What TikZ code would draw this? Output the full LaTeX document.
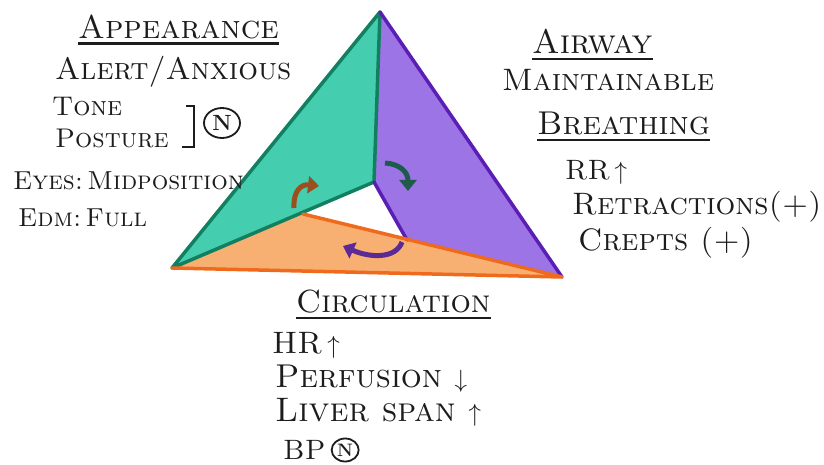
\documentclass[tikz,border=0pt]{standalone}
\usepackage{amsmath,amssymb}
\usepackage{tikz}
\usetikzlibrary{arrows.meta,shapes.geometric,positioning}
\definecolor{ink}{HTML}{1C1C1C}
\definecolor{tealface}{HTML}{45CDB0}
\definecolor{tealrim}{HTML}{128060}
\definecolor{violetface}{HTML}{9C74E6}
\definecolor{violetrim}{HTML}{5A1EB4}
\definecolor{peachface}{HTML}{F8B072}
\definecolor{peachrim}{HTML}{F06A1E}
\definecolor{rustarr}{HTML}{9B4E1E}
\definecolor{pinearr}{HTML}{1F5B4C}
\definecolor{plumarr}{HTML}{5B2A94}

\begin{document}
\begin{tikzpicture}[x=1pt,y=-1pt,
  lbl/.style={anchor=west,inner sep=0pt,text=ink,font=\fontsize{#1}{#1}\selectfont\scshape},
  lbl/.default=31,
  uline/.style={line width=2.5pt,draw=ink},
  rim/.style={line width=3.5pt,line join=round,line cap=round},
  turn/.style={line width=5pt,-{Triangle[length=11pt,width=17pt]}},
  ringN/.style={draw=ink,ellipse,line width=1.8pt,inner sep=0pt,text=ink}]
\fill[white] (0,0) rectangle (824,465);
\useasboundingbox (0,0) rectangle (824,465);

\coordinate (apex) at (380,12);
\coordinate (lb) at (172,268);
\coordinate (rb) at (562,277);
\coordinate (mid) at (374,182);
\coordinate (ot) at (303,214);
\coordinate (pk) at (407,240);

\fill[tealface] (apex) -- (mid) -- (lb) -- cycle;
\fill[violetface] (apex) -- (rb) -- (pk) -- (mid) -- cycle;
\fill[peachface] (lb) -- (ot) -- (rb) -- cycle;
\draw[rim,tealrim] (mid) -- (apex) -- (lb) -- (mid);
\draw[rim,violetrim] (apex) -- (rb);
\draw[rim,violetrim] (mid) -- (pk);
\draw[rim,peachrim] (ot) -- (rb) -- (lb);

\draw[turn,rustarr] (294,208) .. controls (293,190) and (302,184) .. (319,186);
\draw[turn,pinearr] (385,163) .. controls (400,164) and (408,172) .. (408,191);
\draw[turn,plumarr] (402,242) .. controls (396,259) and (370,258) .. (343,246);

\node[lbl=33] (app) at (78,27) {Appearance};
\draw[uline] ([yshift=-5pt]app.base west) -- ([yshift=-5pt]app.base east);
\node[lbl=31] (alert) at (55,72) {Alert/Anxious};
\node[lbl=27] (tone) at (52,107) {Tone};
\node[lbl=27] (posture) at (55,138) {Posture};
\draw[line width=2pt,draw=ink] (186,106) -- (194,106) -- (194,147) -- (182,147);
\node[ringN,minimum width=36pt,minimum height=30pt,font=\fontsize{22}{24}\selectfont\bfseries] (toneN) at (222,123) {N};
\node[lbl=26] (eyes) at (13,181) {Eyes:\,Midposition};
\node[lbl=26] (edm) at (18,218) {Edm:\,Full};

\node[lbl=34] (airway) at (532,42) {Airway};
\draw[uline] ([yshift=-5pt]airway.base west) -- ([yshift=-5pt]airway.base east);
\node[lbl=31] (maint) at (502,80) {Maintainable};
\node[lbl=33] (breath) at (537,123) {Breathing};
\draw[uline] ([yshift=-6pt]breath.base west) -- ([yshift=-6pt]breath.base east);
\node[lbl=28] (rr) at (565,172) {RR\,$\uparrow$};
\node[lbl=31] (retr) at (572,207) {Retractions(+)};
\node[lbl=31] (crep) at (578,243) {Crepts (+)};

\node[lbl=32] (circ) at (296,302) {Circulation};
\draw[uline] ([yshift=-5pt]circ.base west) -- ([yshift=-5pt]circ.base east);
\node[lbl=31] (hr) at (272,345) {HR\,$\uparrow$};
\node[lbl=33] (perf) at (275,379) {Perfusion $\downarrow$};
\node[lbl=34] (liver) at (275,412) {Liver span $\uparrow$};
\node[lbl=28] (bp) at (283,450) {BP};
\node[ringN,minimum width=27pt,minimum height=23pt,font=\fontsize{18}{20}\selectfont\bfseries,right=5pt of bp] (bpN) {N};
\end{tikzpicture}
\end{document}
